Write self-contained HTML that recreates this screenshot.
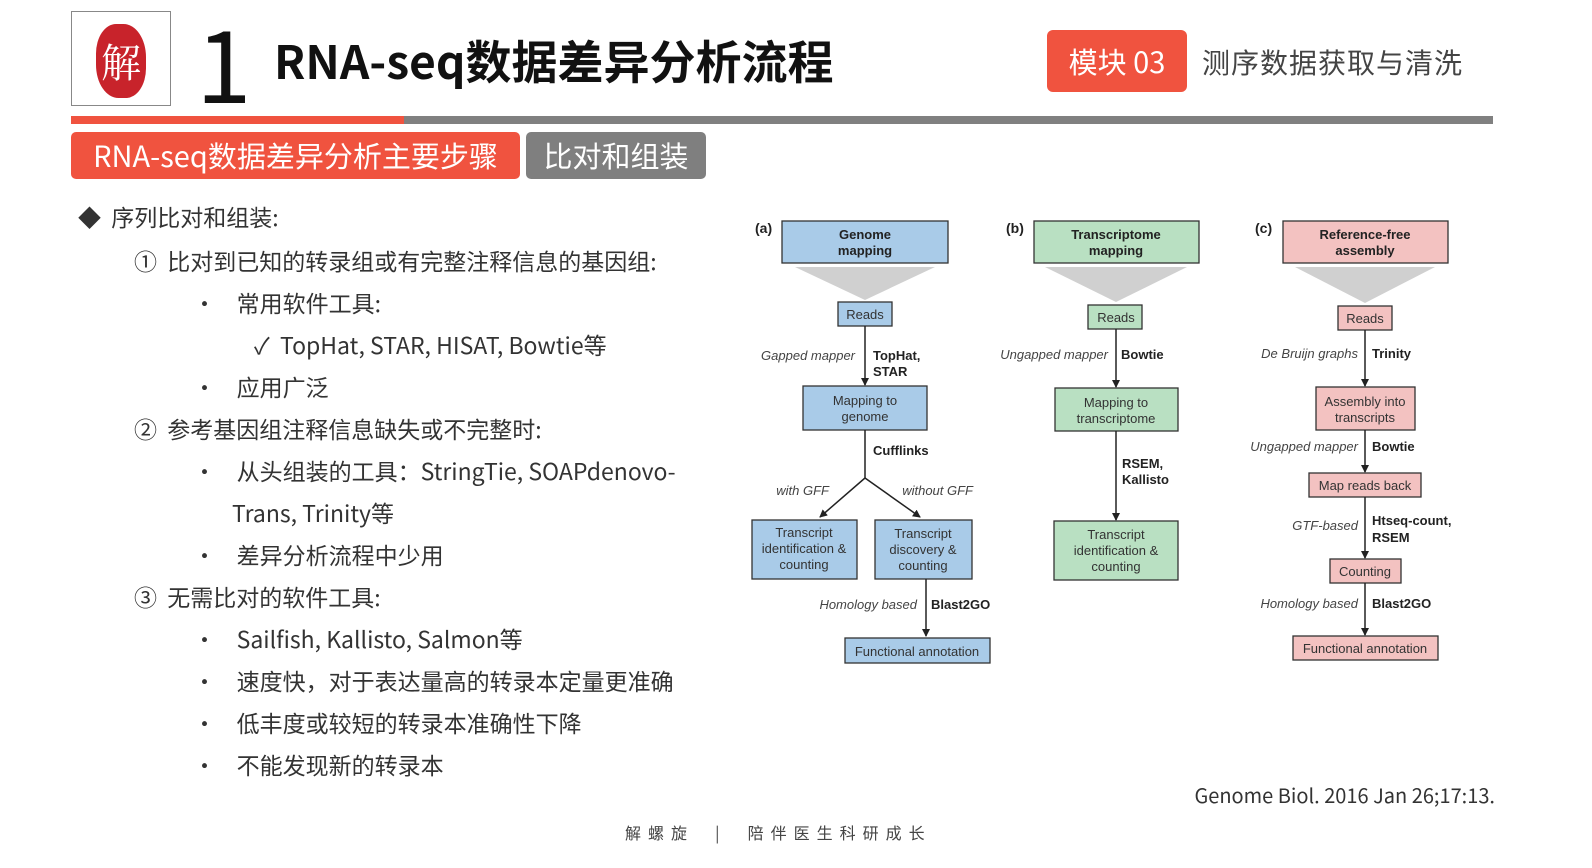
<!DOCTYPE html>
<html><head><meta charset="utf-8"><style>
body{margin:0;width:1592px;height:868px;background:#fff;position:relative;overflow:hidden;font-family:"Liberation Sans","Noto Sans CJK SC",sans-serif;color:#333}
.a{position:absolute;white-space:nowrap}
.n{font-family:"Noto Sans CJK SC",sans-serif}
</style></head><body>
<div class="a" style="left:71px;top:11px;width:100px;height:95px;border:1px solid #888;box-sizing:border-box"></div>
<div class="a" style="left:96px;top:24px;width:50px;height:74px;background:#c8232b;border-radius:40% 45% 40% 45%;color:#fff;font-size:40px;line-height:74px;text-align:center;font-family:'Noto Serif CJK SC',serif">解</div>
<div class="a n" style="left:196px;top:0px;font-size:100px;line-height:120px;color:#111">1</div>
<div class="a n" style="left:274px;top:30px;font-size:46px;line-height:60px;font-weight:bold;color:#111">RNA-seq数据差异分析流程</div>
<div class="a n" style="left:1047px;top:30px;width:140px;height:62px;background:#f0533f;border-radius:6px;color:#fff;font-size:29px;line-height:62px;text-align:center">模块 03</div>
<div class="a n" style="left:1202px;top:42px;font-size:28px;line-height:40px;color:#444;letter-spacing:1px">测序数据获取与清洗</div>
<div class="a" style="left:71px;top:116px;width:333px;height:8px;background:#f0533f"></div>
<div class="a" style="left:404px;top:116px;width:1089px;height:8px;background:#808080"></div>
<div class="a n" style="left:71px;top:132px;width:449px;height:47px;background:#f0533f;border-radius:5px;color:#fff;font-size:29px;line-height:46px;text-align:center">RNA-seq数据差异分析主要步骤</div>
<div class="a n" style="left:526px;top:132px;width:180px;height:47px;background:#7f7f7f;border-radius:5px;color:#fff;font-size:29px;line-height:46px;text-align:center">比对和组装</div>

<div class="n" style="font-size:23px;line-height:30px">
<div class="a" style="left:78px;top:201px">◆ &nbsp;序列比对和组装:</div>
<div class="a" style="left:134px;top:245px">① &nbsp;比对到已知的转录组或有完整注释信息的基因组:</div>
<div class="a" style="left:193px;top:287px">• &nbsp;&nbsp;&nbsp;常用软件工具:</div>
<div class="a" style="left:254px;top:329px">✓ &nbsp;TopHat, STAR, HISAT, Bowtie等</div>
<div class="a" style="left:193px;top:371px">• &nbsp;&nbsp;&nbsp;应用广泛</div>
<div class="a" style="left:134px;top:413px">② &nbsp;参考基因组注释信息缺失或不完整时:</div>
<div class="a" style="left:193px;top:455px">• &nbsp;&nbsp;&nbsp;从头组装的工具：StringTie, SOAPdenovo-</div>
<div class="a" style="left:232px;top:497px">Trans, Trinity等</div>
<div class="a" style="left:193px;top:539px">• &nbsp;&nbsp;&nbsp;差异分析流程中少用</div>
<div class="a" style="left:134px;top:581px">③ &nbsp;无需比对的软件工具:</div>
<div class="a" style="left:193px;top:623px">• &nbsp;&nbsp;&nbsp;Sailfish, Kallisto, Salmon等</div>
<div class="a" style="left:193px;top:665px">• &nbsp;&nbsp;&nbsp;速度快，对于表达量高的转录本定量更准确</div>
<div class="a" style="left:193px;top:707px">• &nbsp;&nbsp;&nbsp;低丰度或较短的转录本准确性下降</div>
<div class="a" style="left:193px;top:749px">• &nbsp;&nbsp;&nbsp;不能发现新的转录本</div>
</div>
<div class="a n" style="right:97px;top:780px;font-size:20px;color:#333">Genome Biol. 2016 Jan 26;17:13.</div>
<div class="a n" style="left:625px;top:820px;font-size:16px;color:#444;letter-spacing:7px">解螺旋 &nbsp;| &nbsp;陪伴医生科研成长</div>

<svg class="a" style="left:0;top:0" width="1592" height="868" font-family="Liberation Sans,sans-serif" font-size="13">
<defs><marker id="m" markerWidth="8" markerHeight="8" refX="7" refY="4" orient="auto" markerUnits="userSpaceOnUse"><path d="M0,0L8,4L0,8z" fill="#222"/></marker></defs>
<g stroke="#333" stroke-width="1.3">
<rect x="782" y="221" width="166" height="42" fill="#a9cbe8"/>
<rect x="838" y="302" width="54" height="24" fill="#a9cbe8"/>
<rect x="803" y="386" width="124" height="44" fill="#a9cbe8"/>
<rect x="752" y="520" width="105" height="59" fill="#a9cbe8"/>
<rect x="875" y="520" width="97" height="59" fill="#a9cbe8"/>
<rect x="845" y="638" width="145" height="25" fill="#a9cbe8"/>
<rect x="1034" y="221" width="165" height="42" fill="#b9e0c2"/>
<rect x="1088" y="305" width="54" height="24" fill="#b9e0c2"/>
<rect x="1055" y="388" width="123" height="43" fill="#b9e0c2"/>
<rect x="1054" y="521" width="124" height="59" fill="#b9e0c2"/>
<rect x="1283" y="221" width="165" height="42" fill="#f3c2c1"/>
<rect x="1338" y="306" width="54" height="24" fill="#f3c2c1"/>
<rect x="1316" y="387" width="99" height="43" fill="#f3c2c1"/>
<rect x="1309" y="473" width="112" height="24" fill="#f3c2c1"/>
<rect x="1330" y="559" width="71" height="24" fill="#f3c2c1"/>
<rect x="1293" y="636" width="145" height="24" fill="#f3c2c1"/>
</g>
<g fill="#d0d0d0">
<path d="M795,267H935L865,300z"/><path d="M1045,267H1187L1116,302z"/><path d="M1295,267H1435L1365,303z"/>
</g>
<g stroke="#222" stroke-width="1.5" fill="none" marker-end="url(#m)">
<line x1="865" y1="326" x2="865" y2="385"/>
<path d="M865,430V478L820,517" />
<line x1="865" y1="478" x2="920" y2="517"/>
<line x1="926" y1="579" x2="926" y2="636"/>
<line x1="1116" y1="329" x2="1116" y2="387"/>
<line x1="1116" y1="431" x2="1116" y2="520"/>
<line x1="1365" y1="330" x2="1365" y2="386"/>
<line x1="1365" y1="430" x2="1365" y2="472"/>
<line x1="1365" y1="497" x2="1365" y2="558"/>
<line x1="1365" y1="583" x2="1365" y2="635"/>
</g>
<g fill="#222" font-weight="bold">
<text x="755" y="233" font-size="14">(a)</text><text x="1006" y="233" font-size="14">(b)</text><text x="1255" y="233" font-size="14">(c)</text>
<g text-anchor="middle">
<text x="865" y="239">Genome</text><text x="865" y="255">mapping</text>
<text x="1116" y="239">Transcriptome</text><text x="1116" y="255">mapping</text>
<text x="1365" y="239">Reference-free</text><text x="1365" y="255">assembly</text>
</g>
<text x="873" y="360">TopHat,</text><text x="873" y="376">STAR</text>
<text x="873" y="455">Cufflinks</text>
<text x="931" y="609">Blast2GO</text>
<text x="1121" y="359">Bowtie</text>
<text x="1122" y="468">RSEM,</text><text x="1122" y="484">Kallisto</text>
<text x="1372" y="358">Trinity</text>
<text x="1372" y="451">Bowtie</text>
<text x="1372" y="525">Htseq-count,</text><text x="1372" y="542">RSEM</text>
<text x="1372" y="608">Blast2GO</text>
</g>
<g fill="#444" font-style="italic" text-anchor="end">
<text x="855" y="360">Gapped mapper</text>
<text x="829" y="495">with GFF</text>
<text x="973" y="495">without GFF</text>
<text x="917" y="609">Homology based</text>
<text x="1108" y="359">Ungapped mapper</text>
<text x="1358" y="358">De Bruijn graphs</text>
<text x="1358" y="451">Ungapped mapper</text>
<text x="1358" y="530">GTF-based</text>
<text x="1358" y="608">Homology based</text>
</g>
<g fill="#333" text-anchor="middle">
<text x="865" y="319">Reads</text>
<text x="865" y="405">Mapping to</text><text x="865" y="421">genome</text>
<text x="804" y="537">Transcript</text><text x="804" y="553">identification &amp;</text><text x="804" y="569">counting</text>
<text x="923" y="538">Transcript</text><text x="923" y="554">discovery &amp;</text><text x="923" y="570">counting</text>
<text x="917" y="656">Functional annotation</text>
<text x="1116" y="322">Reads</text>
<text x="1116" y="407">Mapping to</text><text x="1116" y="423">transcriptome</text>
<text x="1116" y="539">Transcript</text><text x="1116" y="555">identification &amp;</text><text x="1116" y="571">counting</text>
<text x="1365" y="323">Reads</text>
<text x="1365" y="406">Assembly into</text><text x="1365" y="422">transcripts</text>
<text x="1365" y="490">Map reads back</text>
<text x="1365" y="576">Counting</text>
<text x="1365" y="653">Functional annotation</text>
</g>
</svg>
</body></html>
